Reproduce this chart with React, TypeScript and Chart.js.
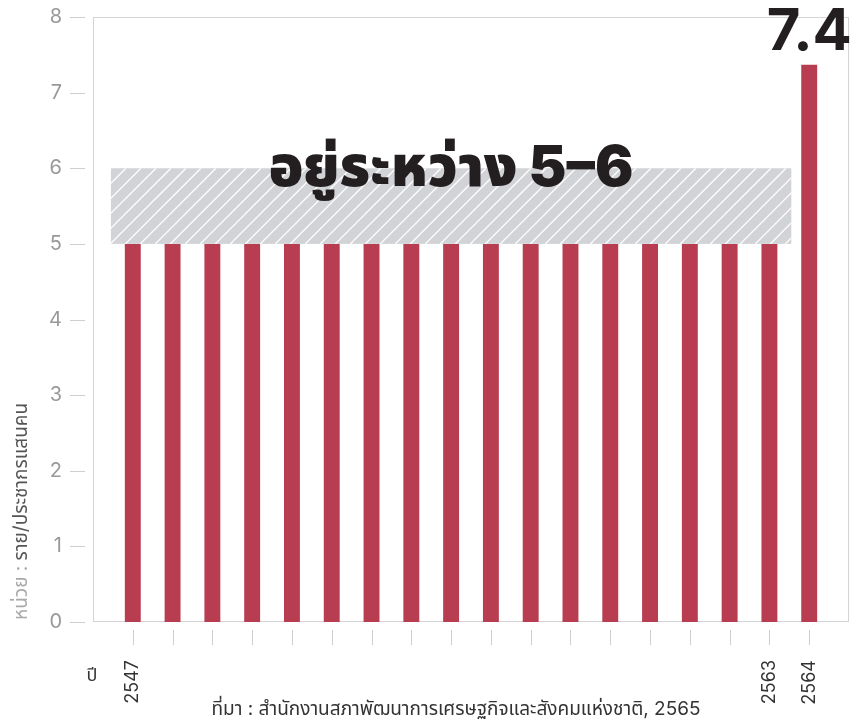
import React, { useEffect, useRef } from "react";
import { Chart, registerables } from "chart.js";

Chart.register(...registerables);

const years = ["2547","2548","2549","2550","2551","2552","2553","2554","2555","2556","2557","2558","2559","2560","2561","2562","2563","2564"];
const rates = [5,5,5,5,5,5,5,5,5,5,5,5,5,5,5,5,5,7.37];
const shownYears = ["2547","2563","2564"];
const yTicks = [0,1,2,3,4,5,6,7,8];
const bandLow = 5;
const bandHigh = 6;
const bandLabel = "อยู่ระหว่าง 5–6";
const lastLabel = "7.4";
const unitPrefix = "หน่วย : ";
const unitText = "ราย/ประชากรแสนคน";
const xTitle = "ปี";
const sourceText = "ที่มา : สำนักงานสภาพัฒนาการเศรษฐกิจและสังคมแห่งชาติ, 2565";

const FONT = "'Inter', 'Noto Sans Thai', 'Noto Sans', sans-serif";

export default function App() {
  const ref = useRef<HTMLCanvasElement | null>(null);
  useEffect(() => {
    const canvas = ref.current!;
    const labels = ["", ...years, ""];
    const data = [null, ...rates, null];

    const deco = {
      id: "deco",
      beforeDatasetsDraw(chart: any) {
        const { ctx, chartArea, scales } = chart;
        const x = scales.x, y = scales.y;
        ctx.save();
        ctx.strokeStyle = "#d4d4d4";
        ctx.lineWidth = 1;
        ctx.strokeRect(chartArea.left + 0.5, chartArea.top + 0.5, chartArea.right - chartArea.left - 1, chartArea.bottom - chartArea.top - 1);
        const x0 = x.getPixelForValue(1 - 0.55);
        const x1 = x.getPixelForValue(years.length + 0.55 - 1);
        const yTop = y.getPixelForValue(bandHigh);
        const yBot = y.getPixelForValue(bandLow);
        ctx.fillStyle = "#d2d3d6";
        ctx.fillRect(x0, yTop, x1 - x0, yBot - yTop);
        ctx.beginPath();
        ctx.rect(x0, yTop, x1 - x0, yBot - yTop);
        ctx.clip();
        ctx.strokeStyle = "#ffffff";
        ctx.lineWidth = 1.3;
        const h = yBot - yTop;
        for (let sx = x0 - h; sx < x1 + h; sx += 15) {
          ctx.beginPath();
          ctx.moveTo(sx, yBot);
          ctx.lineTo(sx + h, yTop);
          ctx.stroke();
        }
        ctx.restore();
      },
      afterDraw(chart: any) {
        const { ctx, chartArea, scales } = chart;
        const x = scales.x, y = scales.y;
        ctx.save();
        ctx.strokeStyle = "#cfcfcf";
        ctx.lineWidth = 1;
        yTicks.forEach((v) => {
          const py = Math.round(y.getPixelForValue(v)) + 0.5;
          ctx.beginPath();
          ctx.moveTo(chartArea.left - 23, py);
          ctx.lineTo(chartArea.left - 8, py);
          ctx.stroke();
        });
        years.forEach((_, i) => {
          const px = Math.round(x.getPixelForValue(i + 1)) + 0.5;
          ctx.beginPath();
          ctx.moveTo(px, chartArea.bottom + 8);
          ctx.lineTo(px, chartArea.bottom + 23);
          ctx.stroke();
        });
        ctx.fillStyle = "#231f20";
        ctx.font = `900 57px ${FONT}`;
        ctx.textAlign = "center";
        ctx.textBaseline = "alphabetic";
        ctx.fillText(bandLabel, x.getPixelForValue((1 + years.length - 1) / 2), y.getPixelForValue(5.76));
        ctx.font = `bold 58px ${FONT}`;
        ctx.fillText(lastLabel, x.getPixelForValue(years.length), y.getPixelForValue(7.57));
        ctx.font = `18px ${FONT}`;
        ctx.fillStyle = "#333";
        ctx.textAlign = "center";
        ctx.fillText(xTitle, 92, 681);
        ctx.font = `19px ${FONT}`;
        ctx.fillText(sourceText, 456, 715);
        ctx.translate(21, 620);
        ctx.rotate(-Math.PI / 2);
        ctx.font = `19px ${FONT}`;
        ctx.textAlign = "left";
        ctx.textBaseline = "middle";
        ctx.fillStyle = "#aaaaaa";
        ctx.fillText(unitPrefix, 0, 0);
        const w = ctx.measureText(unitPrefix).width;
        ctx.fillStyle = "#555555";
        ctx.fillText(unitText, w, 0);
        ctx.restore();
      },
    };

    const chart = new Chart(canvas, {
      type: "bar",
      data: {
        labels,
        datasets: [
          {
            data,
            backgroundColor: "#b83d51",
            barPercentage: 0.4,
            categoryPercentage: 1,
          },
        ],
      },
      options: {
        animation: false,
        responsive: false,
        layout: { padding: { left: 0, right: 15, top: 17, bottom: 0 } },
        plugins: { legend: { display: false }, tooltip: { enabled: false } },
        scales: {
          x: {
            offset: false,
            grid: { display: false, drawTicks: false },
            border: { display: false },
            afterFit: (s: any) => { s.height = 100; s.paddingLeft = 0; s.paddingRight = 0; },
            ticks: {
              autoSkip: false,
              maxRotation: 90,
              minRotation: 90,
              padding: 38,
              color: "#333",
              font: { family: FONT, size: 18 },
              callback: function (this: any, v: any) {
                const l = labels[v as number];
                return shownYears.includes(l) ? l : "";
              },
            },
          },
          y: {
            min: 0,
            max: 8,
            grid: { display: false, drawTicks: false },
            border: { display: false },
            afterFit: (s: any) => { s.width = 93; s.paddingTop = 0; s.paddingBottom = 0; },
            ticks: {
              stepSize: 1,
              padding: 31,
              color: "#999999",
              font: { family: FONT, size: 20 },
            },
          },
        },
      },
      plugins: [deco],
    });
    return () => chart.destroy();
  }, []);

  return (
    <div style={{ position: "absolute", left: 0, top: 0, width: 864, height: 722, background: "#fff" }}>
      <canvas ref={ref} width={864} height={722} />
    </div>
  );
}
